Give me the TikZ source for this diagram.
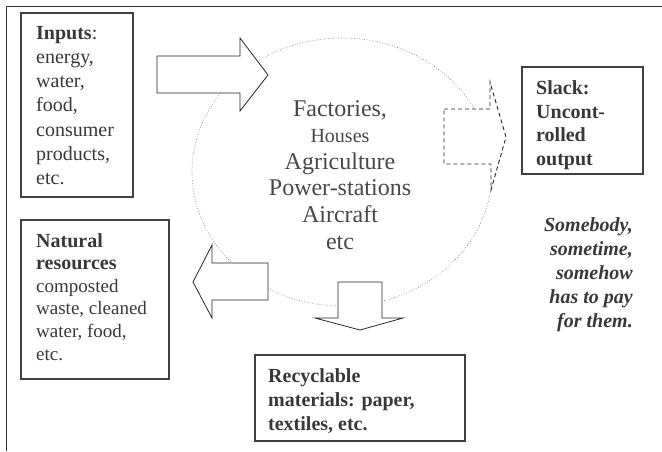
\documentclass[tikz,border=0pt]{standalone}
\usepackage{fontspec}
\usetikzlibrary{shapes.geometric}
\setmainfont{Liberation Serif}
\begin{document}
\begin{tikzpicture}[x=1pt,y=-1pt,
  txt/.style={text=black!78,inner sep=0pt,align=left,anchor=base west},
  boxframe/.style={draw=black!75,line width=1.2pt},
  bigarrow/.style={draw=black!85,line width=0.8pt,fill=white,line join=miter}]
\useasboundingbox (0,0) rectangle (662,451);
% frame
\coordinate (fl) at (6,451);
\coordinate (fc) at (6,6);
\coordinate (fr) at (662,6);
\draw[black!80,line width=1pt] (fl) -- (fc) -- (fr);
% cycle ellipse
\node[draw=black!60,dotted,line width=0.6pt,ellipse,minimum width=300pt,minimum height=268pt,inner sep=0pt] (cyc) at (342,172) {};
% arrows
\draw[bigarrow] (157,56) -- (240,56) -- (240,38) -- (268,75) -- (240,111) -- (240,93) -- (157,93) -- cycle;
\draw[bigarrow,dashed,line width=0.9pt,dash pattern=on 4pt off 3pt] (444,109) -- (490,109) -- (490,82) -- (506,137) -- (491,190) -- (491,164) -- (444,164) -- cycle;
\draw[bigarrow] (268,263) -- (212,263) -- (212,245) -- (193,282) -- (212,318) -- (212,300) -- (268,300) -- cycle;
\draw[bigarrow] (338,282) -- (382,282) -- (382,318) -- (403,318) -- (360,330) -- (315,318) -- (338,318) -- cycle;
% boxes
\draw[boxframe] (21,13) rectangle (133,197);
\draw[boxframe] (21,220) rectangle (169,379);
\draw[boxframe] (522,67) rectangle (643,174);
\draw[boxframe] (255,355) rectangle (465,441);
% texts (base anchor = baseline of last line)
\node[txt,font=\fontsize{20}{24.2}\selectfont] (inp) at (36,184.5) {\textbf{Inputs}:\\energy,\\water,\\food,\\consumer\\products,\\etc.};
\node[txt,font=\fontsize{19}{22.6}\selectfont] (nat) at (36,360) {\fontsize{20}{24}\selectfont\textbf{Natural}\\\fontsize{20}{24}\selectfont\textbf{resources}\\composted\\waste, cleaned\\water, food,\\etc.};
\node[txt,font=\bfseries\fontsize{20}{23.5}\selectfont] (slk) at (536,165) {Slack:\\Uncont-\\rolled\\output};
\node[txt,font=\bfseries\fontsize{20}{24}\selectfont] (rec) at (268,430) {Recyclable\\materials: paper,\\textiles, etc.};
\node[txt,align=right,anchor=base east,font=\bfseries\itshape\fontsize{20}{23.8}\selectfont] (som) at (633,327) {Somebody,\\sometime,\\somehow\\has to pay\\for them.};
\node[txt,align=center,anchor=base,font=\fontsize{24}{26.6}\selectfont,text=black!72] (ctr) at (340,249) {Factories,\\{\fontsize{20}{24}\selectfont Houses}\\Agriculture\\Power-stations\\Aircraft\\etc};
\end{tikzpicture}
\end{document}
